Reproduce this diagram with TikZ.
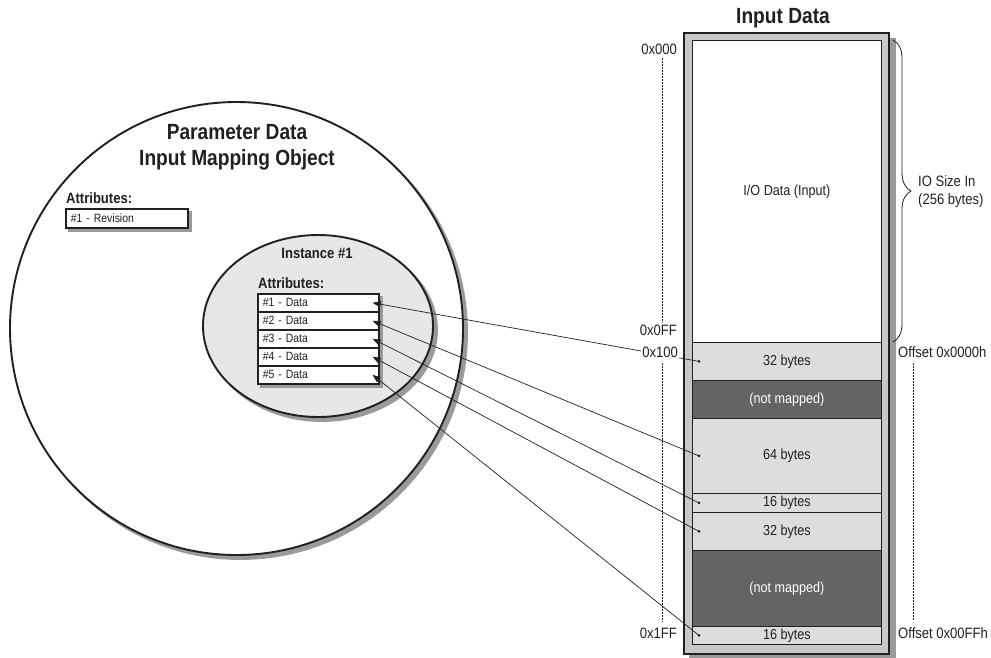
\documentclass[tikz,border=0pt]{standalone}
\usepackage{fontspec}
\setmainfont{Liberation Sans}[FakeStretch=0.87]
\usetikzlibrary{shapes.geometric,arrows.meta,decorations.pathreplacing}
\definecolor{lightseg}{HTML}{DDDDDD}
\definecolor{darkseg}{HTML}{646464}
\definecolor{framegray}{HTML}{C8C8C8}
\definecolor{shadowgray}{HTML}{9A9A9A}
\definecolor{ellfill}{HTML}{E6E7E8}
\definecolor{ink}{HTML}{231F20}
\begin{document}
\begin{tikzpicture}[x=1pt,y=-1pt, every node/.style={text=ink},
  titletext/.style={font=\fontsize{22}{26}\selectfont\bfseries, inner sep=0pt},
  boldlab/.style={font=\fontsize{15}{18}\selectfont\bfseries, inner sep=0pt},
  memlab/.style={font=\fontsize{14.5}{18}\selectfont, inner sep=0pt},
  addrlab/.style={font=\fontsize{15}{18}\selectfont, inner sep=1pt},
  shad/.style={preaction={fill=shadowgray, draw=shadowgray, transform canvas={xshift=#1, yshift=-#1}}},
  attrbox/.style={draw=ink, line width=1.6pt, fill=white, anchor=north west, inner ysep=0pt, inner xsep=5pt,
     text width=#1, align=left, font=\fontsize{12}{14}\selectfont, shad=3pt},
  seg/.style={draw=ink, line width=0.8pt, minimum width=189pt, anchor=north west, inner sep=0pt,
     font=\fontsize{14.5}{18}\selectfont},
  lseg/.style={seg, fill=lightseg},
  dseg/.style={seg, fill=darkseg, text=white},
  conn/.style={draw=ink, line width=0.7pt, -{Triangle[length=8pt,width=6pt]}},
  dotline/.style={draw=ink, line width=0.8pt, dash pattern=on 1.5pt off 1.5pt},
  dotmark/.style={fill=ink}
]
\useasboundingbox (0,0) rectangle (991,657);

% ---- left: object
\node[circle, draw=ink, line width=1.9pt, fill=white, minimum size=453pt, inner sep=0pt, shad=4pt] (outer) at (236.5,328.5) {};
\node[titletext] (title1) at (237,132) {Parameter Data};
\node[titletext] (title2) at (237,160) {Input Mapping Object};
\node[boldlab, anchor=west] (attrA) at (66,198) {Attributes:};
\node[attrbox=112pt, minimum height=19pt] (rev) at (65,208) {\#1 - Revision};

\node[ellipse, draw=ink, line width=1.9pt, fill=ellfill, minimum width=230pt, minimum height=182pt, inner sep=0pt, shad=4pt] (inst) at (318,326) {};
\node[boldlab] (insttitle) at (317,253) {Instance \#1};
\node[boldlab, anchor=west] (attrB) at (258,283) {Attributes:};
\node[attrbox=111pt, minimum height=18pt] (r1) at (257,293) {\#1 - Data};
\node[attrbox=111pt, minimum height=18pt] (r2) at (257,311) {\#2 - Data};
\node[attrbox=111pt, minimum height=18pt] (r3) at (257,329) {\#3 - Data};
\node[attrbox=111pt, minimum height=18pt] (r4) at (257,347) {\#4 - Data};
\node[attrbox=111pt, minimum height=18pt] (r5) at (257,365) {\#5 - Data};

% ---- right: memory
\node[titletext] (inputtitle) at (783,18) {Input Data};
\node[draw=ink, line width=1.8pt, fill=framegray, minimum width=205pt, minimum height=621pt, anchor=north west, inner sep=0pt, shad=6pt] (frame) at (683,32) {};
\node[seg, fill=white, minimum height=302pt] (io) at (692,40) {I/O Data (Input)};
\node[lseg, minimum height=38pt] (s1) at (692,342) {32 bytes};
\node[dseg, minimum height=38pt] (n1) at (692,380) {(not mapped)};
\node[lseg, minimum height=75pt] (s2) at (692,418) {64 bytes};
\node[lseg, minimum height=19pt] (s3) at (692,493) {16 bytes};
\node[lseg, minimum height=38pt] (s4) at (692,512) {32 bytes};
\node[dseg, minimum height=76pt] (n2) at (692,550) {(not mapped)};
\node[lseg, minimum height=18pt] (s5) at (692,626) {16 bytes};

% dotted guide lines
\coordinate (la) at (662,58);
\coordinate (lb) at (662,323);
\coordinate (lc) at (662,363);
\coordinate (ld) at (662,622);
\coordinate (ra) at (913,363);
\coordinate (rb) at (913,620);
\draw[dotline] (la) -- (lb);
\draw[dotline] (lc) -- (ld);
\draw[dotline] (ra) -- (rb);

% brace
\coordinate (bt) at (893,40);
\coordinate (bb) at (893,342);
\draw[draw=ink, line width=0.8pt, decorate, decoration={brace, amplitude=18pt}] (bt) -- (bb);
\node[memlab, anchor=west, align=left, font=\fontsize{15}{18}\selectfont] (iosize) at (918,192) {IO Size In\\(256 bytes)};

% connectors
\foreach \s/\r in {s1/r1, s2/r2, s3/r3, s4/r4, s5/r5}{
  \fill[dotmark] ([xshift=7pt]\s.west) circle (1.5pt);
  \draw[conn] ([xshift=7pt]\s.west) -- ([xshift=-7pt]\r.east);
}

% address labels
\node[addrlab, anchor=east] (a0) at (678,49) {0x000};
\node[addrlab, anchor=east] (a1) at (678,330) {0x0FF};
\node[addrlab, anchor=east, fill=white] (a2) at (679,352) {0x100};
\node[addrlab, anchor=east] (a3) at (678,633) {0x1FF};
\node[addrlab, anchor=west] (o1) at (897,352) {Offset 0x0000h};
\node[addrlab, anchor=west] (o2) at (897,633) {Offset 0x00FFh};
\end{tikzpicture}
\end{document}
